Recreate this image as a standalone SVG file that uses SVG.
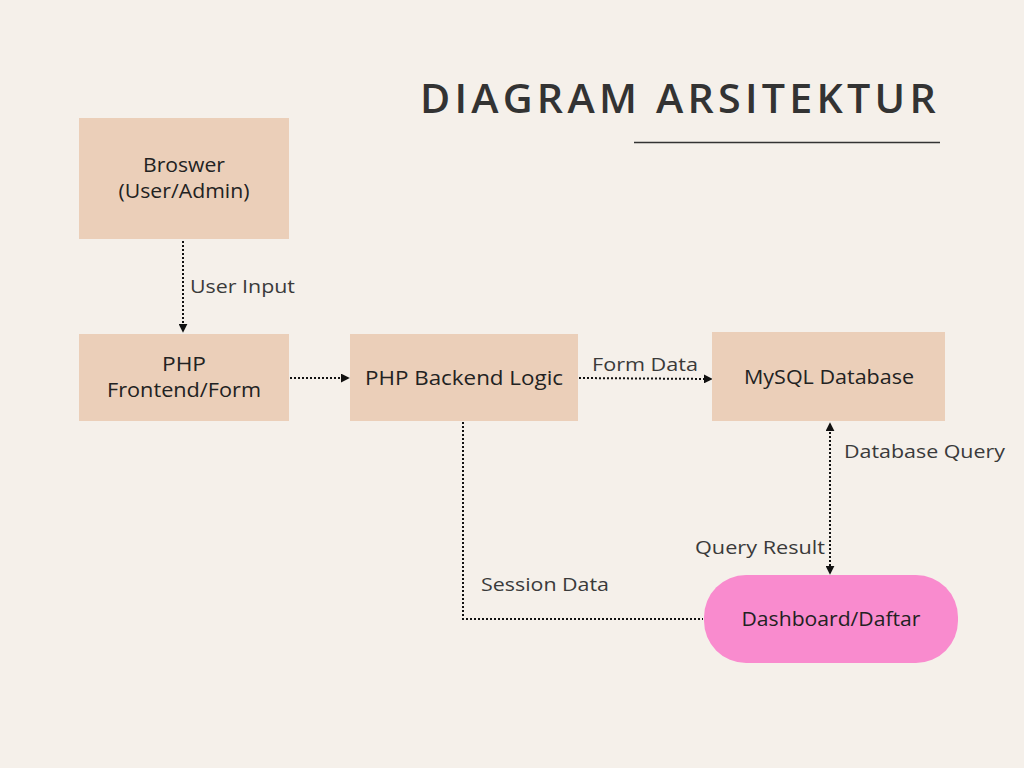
<svg xmlns="http://www.w3.org/2000/svg" width="1024" height="768" viewBox="0 0 1024 768">
<defs>
<style>
.node{fill:#ebcfb9;}
.pill{fill:#f98bce;}
.nt{font-family:"Open Sans","Liberation Sans",sans-serif;font-size:20px;fill:#222;text-anchor:middle;dominant-baseline:central;}
.lb{font-family:"Open Sans","Liberation Sans",sans-serif;font-size:19px;fill:#3a3a3a;dominant-baseline:central;}
.title{font-family:"Open Sans","Liberation Sans",sans-serif;font-size:39px;font-weight:600;fill:#333;letter-spacing:4px;}
.con{fill:none;stroke:#111;stroke-width:2;stroke-dasharray:2 2;}
</style>
<marker id="ah" viewBox="0 0 10 10" refX="8" refY="5" markerWidth="4.5" markerHeight="4.5" orient="auto-start-reverse" markerUnits="strokeWidth">
<path d="M0,0 L10,5 L0,10 z" fill="#111"/>
</marker>
</defs>
<rect width="1024" height="768" fill="#f5f0ea"/>
<g id="title">
<text class="title" x="420" y="113" textLength="520" lengthAdjust="spacingAndGlyphs">DIAGRAM ARSITEKTUR</text>
<line x1="634" y1="142.5" x2="940" y2="142.5" stroke="#333" stroke-width="1.5"/>
</g>
<g id="connectors">
<line class="con" x1="183" y1="241" x2="183" y2="331" marker-end="url(#ah)"/>
<line class="con" x1="290" y1="378" x2="348" y2="378" marker-end="url(#ah)"/>
<line class="con" x1="579" y1="378" x2="711" y2="379" marker-end="url(#ah)"/>
<line class="con" x1="830" y1="424" x2="830" y2="573" marker-start="url(#ah)" marker-end="url(#ah)"/>
<polyline class="con" points="463,422 463,619 703,619"/>
<text class="lb" x="190" y="286" textLength="105" lengthAdjust="spacingAndGlyphs">User Input</text>
<text class="lb" x="592" y="364" textLength="106" lengthAdjust="spacingAndGlyphs">Form Data</text>
<text class="lb" x="844" y="451" textLength="161" lengthAdjust="spacingAndGlyphs">Database Query</text>
<text class="lb" x="695" y="547" textLength="130" lengthAdjust="spacingAndGlyphs">Query Result</text>
<text class="lb" x="481" y="584" textLength="128" lengthAdjust="spacingAndGlyphs">Session Data</text>
</g>
<g id="browser">
<rect class="node" x="79" y="118" width="210" height="121"/>
<text class="nt" x="184" y="164" textLength="82" lengthAdjust="spacingAndGlyphs">Broswer</text>
<text class="nt" x="184" y="190" textLength="131" lengthAdjust="spacingAndGlyphs">(User/Admin)</text>
</g>
<g id="frontend">
<rect class="node" x="79" y="334" width="210" height="87"/>
<text class="nt" x="184" y="363" textLength="44" lengthAdjust="spacingAndGlyphs">PHP</text>
<text class="nt" x="184" y="389" textLength="154" lengthAdjust="spacingAndGlyphs">Frontend/Form</text>
</g>
<g id="backend">
<rect class="node" x="350" y="334" width="228" height="87"/>
<text class="nt" x="464" y="377" textLength="198" lengthAdjust="spacingAndGlyphs">PHP Backend Logic</text>
</g>
<g id="mysql">
<rect class="node" x="712" y="332" width="233" height="89"/>
<text class="nt" x="829" y="376" textLength="170" lengthAdjust="spacingAndGlyphs">MySQL Database</text>
</g>
<g id="dashboard">
<rect class="pill" x="704" y="575" width="254" height="88" rx="42"/>
<text class="nt" x="831" y="618" textLength="179" lengthAdjust="spacingAndGlyphs">Dashboard/Daftar</text>
</g>
</svg>
